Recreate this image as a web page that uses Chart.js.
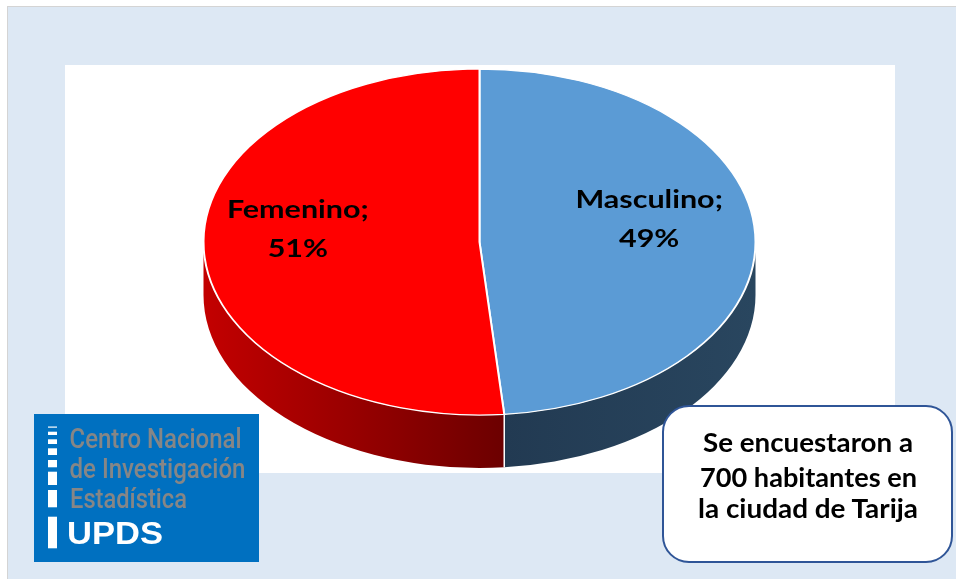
<!DOCTYPE html>
<html>
<head>
<meta charset="utf-8">
<script src="https://cdn.jsdelivr.net/npm/chart.js@4.4.1/dist/chart.umd.min.js"></script>
<style>
  html, body { margin: 0; padding: 0; background: #ffffff; }
  #page { position: relative; width: 956px; height: 579px; overflow: hidden; background: #ffffff; }
  #bg { position: absolute; left: 7px; top: 6px; width: 960px; height: 590px; background: #DDE8F4; border: 1px solid #D4D4D4; }
  #plot { position: absolute; left: 65px; top: 65px; width: 830px; height: 408px; background: #ffffff; }
  #chart { position: absolute; left: 0; top: 0; }
  #overlay { position: absolute; left: 0; top: 0; }
</style>
</head>
<body>
<div id="page">
  <div id="bg"></div>
  <div id="plot"></div>
  <canvas id="chart" width="956" height="579"></canvas>
  <svg id="overlay" width="956" height="579" xmlns="http://www.w3.org/2000/svg">
    <!-- logo -->
    <rect x="34" y="414" width="225" height="148" fill="#0070C0"/>
    <g fill="#ffffff">
      <rect x="48" y="426.5" width="9" height="1.2"/>
      <rect x="48" y="431.7" width="9" height="3.3"/>
      <rect x="48" y="439.3" width="9" height="4.7"/>
      <rect x="48" y="448.3" width="9" height="6.7"/>
      <rect x="48" y="460" width="9" height="7.3"/>
      <rect x="48" y="471.7" width="9" height="13.3"/>
      <rect x="48" y="490" width="9" height="17.3"/>
      <rect x="48" y="516.7" width="9" height="31.6"/>
    </g>
    <g font-family="Roboto, 'Liberation Sans', sans-serif" font-weight="500" font-size="27" fill="#868686">
      <text x="69.5" y="447.7" textLength="172" lengthAdjust="spacingAndGlyphs">Centro Nacional</text>
      <text x="69.5" y="478.3" textLength="176" lengthAdjust="spacingAndGlyphs">de Investigación</text>
      <text x="70" y="508.3" textLength="117" lengthAdjust="spacingAndGlyphs">Estadística</text>
    </g>
    <text x="67" y="544.3" font-family="'Liberation Sans', Arial, sans-serif" font-weight="bold" font-size="31" fill="#ffffff" textLength="96" lengthAdjust="spacingAndGlyphs">UPDS</text>
    <!-- note -->
    <rect x="663" y="406" width="289" height="156" rx="26" ry="26" fill="#ffffff" stroke="#2F5597" stroke-width="2"/>
    <g font-family="Lato, 'Open Sans', sans-serif" font-weight="bold" font-size="26" fill="#000000" text-anchor="middle">
      <text x="808" y="452" textLength="210" lengthAdjust="spacingAndGlyphs">Se encuestaron a</text>
      <text x="808.5" y="486.7" textLength="217" lengthAdjust="spacingAndGlyphs">700 habitantes en</text>
      <text x="808" y="517.7" textLength="220" lengthAdjust="spacingAndGlyphs">la ciudad de Tarija</text>
    </g>
  </svg>
</div>
<script>
// ---- data ----
const categories = ['Masculino', 'Femenino'];
const respondents = [340, 360];        // of 700 surveyed (49% / 51%)
const sliceColors = ['#5B9BD5', '#FF0000'];
const sideColors = [['#223A52', '#29465F'], ['#C30000', '#6C0000']];

// ---- style constants ----
const TILT = 173 / 276;      // vertical squash of the pie top
const TOP_CY = 242;          // centre y of the top face on the page
const DEPTH = 53;            // thickness of the 3D pie
const LABEL_R = 0.637;       // label distance as fraction of radius
const LABEL_DX = -6;
const LABEL_DY = -18;
const LABEL_SX = 1.22;       // horizontal stretch of labels
const LABEL_FONT = 'bold 25px Lato, "Open Sans", sans-serif';

const total = respondents.reduce((a, b) => a + b, 0);

function frontSpans(start, end) {
  const out = [];
  for (const shift of [-2 * Math.PI, 0, 2 * Math.PI]) {
    const s = Math.max(start + shift, 0);
    const e = Math.min(end + shift, Math.PI);
    if (e > s) out.push([s, e]);
  }
  return out;
}

const pie3d = {
  id: 'pie3d',
  beforeDatasetsDraw(chart) {
    const ctx = chart.ctx;
    const arcs = chart.getDatasetMeta(0).data;
    const a0 = arcs[0];
    const cx = a0.x, R = a0.outerRadius, ry = R * TILT;
    // side walls
    arcs.forEach((arc, i) => {
      const p = arc.getProps(['startAngle', 'endAngle'], true);
      frontSpans(p.startAngle, p.endAngle).forEach(([s, e]) => {
        const x1 = cx + R * Math.cos(s), x2 = cx + R * Math.cos(e);
        const g = ctx.createLinearGradient(Math.min(x1, x2), 0, Math.max(x1, x2), 0);
        g.addColorStop(0, sideColors[i][0]);
        g.addColorStop(1, sideColors[i][1]);
        ctx.save();
        ctx.beginPath();
        ctx.ellipse(cx, TOP_CY, R, ry, 0, s, e, false);
        ctx.ellipse(cx, TOP_CY + DEPTH, R, ry, 0, e, s, true);
        ctx.closePath();
        ctx.fillStyle = g;
        ctx.fill();
        ctx.restore();
      });
    });
    // seams where slices meet on the front wall
    arcs.forEach((arc) => {
      const p = arc.getProps(['startAngle'], true);
      let a = p.startAngle;
      while (a < 0) a += 2 * Math.PI;
      while (a >= 2 * Math.PI) a -= 2 * Math.PI;
      if (a > 0.001 && a < Math.PI - 0.001) {
        const x = cx + R * Math.cos(a), y = TOP_CY + ry * Math.sin(a);
        ctx.save();
        ctx.strokeStyle = '#ffffff';
        ctx.lineWidth = 1.5;
        ctx.beginPath();
        ctx.moveTo(x, y);
        ctx.lineTo(x, y + DEPTH);
        ctx.stroke();
        ctx.restore();
      }
    });
    // squash the top face into an ellipse
    ctx.save();
    ctx.translate(0, TOP_CY - a0.y * TILT);
    ctx.scale(1, TILT);
  },
  afterDatasetsDraw(chart) {
    const ctx = chart.ctx;
    ctx.restore();
    const arcs = chart.getDatasetMeta(0).data;
    arcs.forEach((arc, i) => {
      const p = arc.getProps(['startAngle', 'endAngle', 'x', 'outerRadius'], true);
      const mid = (p.startAngle + p.endAngle) / 2;
      const R = p.outerRadius;
      const x = p.x + R * LABEL_R * Math.cos(mid) + LABEL_DX;
      const y = TOP_CY + R * TILT * LABEL_R * Math.sin(mid) + LABEL_DY;
      const pct = Math.round(respondents[i] / total * 100);
      ctx.save();
      ctx.translate(x, y);
      ctx.scale(LABEL_SX, 1);
      ctx.font = LABEL_FONT;
      ctx.fillStyle = '#000000';
      ctx.textAlign = 'center';
      ctx.textBaseline = 'middle';
      ctx.fillText(categories[i] + ';', 0, -19);
      ctx.fillText(pct + '%', 0, 20);
      ctx.restore();
    });
  }
};

new Chart(document.getElementById('chart'), {
  type: 'pie',
  data: {
    labels: categories,
    datasets: [{
      data: respondents,
      backgroundColor: sliceColors,
      borderColor: '#ffffff',
      borderWidth: 2,
      radius: 276,
      clip: false
    }]
  },
  options: {
    responsive: false,
    animation: false,
    devicePixelRatio: 1,
    events: [],
    layout: { padding: { left: 203, right: 200, top: 13, bottom: 14 } },
    plugins: { legend: { display: false }, tooltip: { enabled: false }, title: { display: false } }
  },
  plugins: [pie3d]
});
</script>
</body>
</html>
